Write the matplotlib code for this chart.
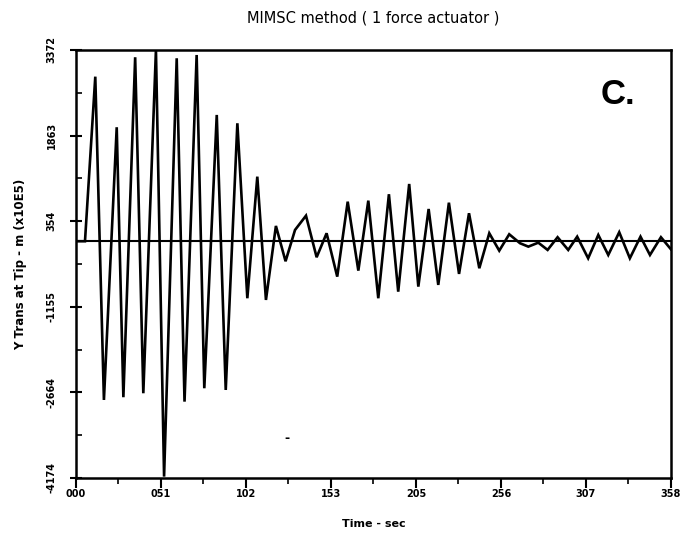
import numpy as np
import matplotlib
matplotlib.use("Agg")
import matplotlib.pyplot as plt

# response (time in sec, y trans in m x10E5)
t = [0, 5.4, 11.6, 16.8, 24.5, 28.5, 35.6, 40.5, 48.1, 53.0, 60.6, 65.3,
     72.6, 77.2, 84.7, 90.1, 97.1, 103.1, 109.1, 114.3, 120.3, 126.1, 131.8,
     138.4, 144.8, 150.8, 157.2, 163.5, 169.9, 175.9, 181.9, 188.3, 193.9,
     200.5, 206.0, 212.2, 218.0, 224.4, 230.5, 236.5, 242.7, 248.7, 254.7,
     260.7, 267.2, 272.2, 278.2, 283.8, 289.8, 296.2, 301.6, 308.2, 314.3,
     320.3, 326.9, 333.3, 339.7, 345.4, 352.0, 358.0]
y = [0, 0, 2902, -2798, 2010, -2750, 3244, -2680, 3372, -4150, 3226, -2828,
     3284, -2592, 2227, -2622, 2080, -1005, 1139, -1035, 270, -353, 199,
     451, -282, 141, -624, 698, -518, 716, -1005, 829, -889, 1010, -800,
     569, -770, 680, -576, 494, -476, 141, -166, 123, -35, -95, -25, -153,
     71, -153, 81, -300, 111, -242, 159, -300, 81, -242, 71, -141]

xticks = [0, 51.14, 102.29, 153.43, 204.57, 255.71, 306.86, 358]
xlabels = ["000", "051", "102", "153", "205", "256", "307", "358"]
yticks = [3372, 1863, 354, -1155, -2664, -4174]
ylabels = ["3372", "1863", "354", "-1155", "-2664", "-4174"]

fig = plt.figure(figsize=(6.86, 5.37), dpi=100)
ax = fig.add_axes([0.1108, 0.1099, 0.8672, 0.7970])

ax.axhline(0, color="black", lw=1.5)
ax.plot(t, y, color="black", lw=1.9, solid_joinstyle="miter")

ax.set_xlim(0, 358)
ax.set_ylim(-4174, 3372)

ax.set_xticks(xticks)
ax.set_xticklabels(xlabels, fontsize=7, fontweight="bold")
ax.set_yticks(yticks)
ax.set_yticklabels(ylabels, fontsize=7, fontweight="bold", rotation=90, va="center")
ax.set_xticks([(a + b) / 2 for a, b in zip(xticks[:-1], xticks[1:])], minor=True)
ax.set_yticks([(a + b) / 2 for a, b in zip(yticks[:-1], yticks[1:])], minor=True)
ax.tick_params(axis="x", which="major", direction="out", length=7, width=1.5, pad=1)
ax.tick_params(axis="x", which="minor", direction="out", length=4, width=1.2)
ax.tick_params(axis="y", which="major", direction="inout", length=8, width=1.5, pad=10)
ax.tick_params(axis="y", which="minor", direction="in", length=4, width=1.2)

for s in ax.spines.values():
    s.set_linewidth(1.8)

ax.set_title("MIMSC method ( 1 force actuator )", fontsize=10.5, pad=20)
ax.set_xlabel("Time - sec", fontsize=8, fontweight="bold", labelpad=14)
ax.set_ylabel("Y Trans at Tip - m (x10E5)", fontsize=8.5, fontweight="bold", labelpad=14)

ax.text(0.94, 0.935, "C.", transform=ax.transAxes, fontsize=25, fontweight="bold",
        family="Liberation Sans", ha="right", va="top")
ax.text(0.35, 0.085, "-", transform=ax.transAxes, fontsize=9, fontweight="bold")

fig.savefig("out.png", dpi=100)
